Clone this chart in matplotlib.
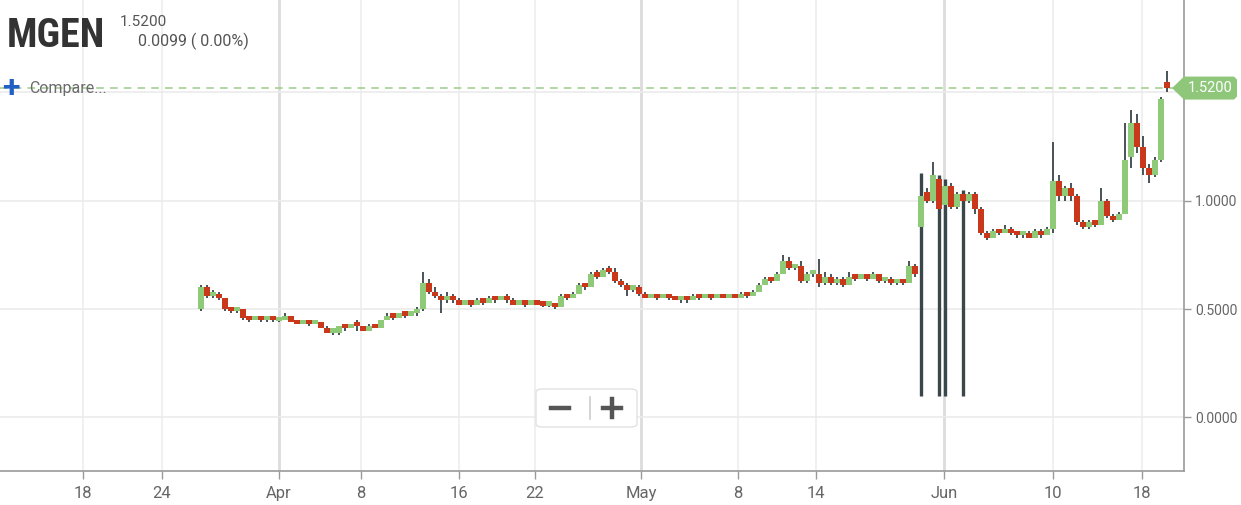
import matplotlib
matplotlib.use("Agg")
import matplotlib.pyplot as plt
import numpy as np
from matplotlib.patches import FancyBboxPatch, Polygon
from matplotlib.transforms import IdentityTransform

plt.rcParams["font.family"] = ["Roboto", "DejaVu Sans"]

# candles, one per slot (oldest first)
opens = [
    .50, .60, .56, .57, .55, .50, .49, .50, .46, .45,
    .46, .45, .46, .445, .45, .47, .44, .43, .44, .43,
    .44, .41, .39, .39, .42, .41, .43, .42, .40, .42,
    .41, .45, .47, .46, .48, .47, .48, .50, .62, .58,
    .56, .54, .56, .54, .52, .53, .52, .54, .53, .55,
    .54, .55, .54, .52, .53, .52, .53, .52, .515, .515,
    .51, .56, .55, .57, .61, .60, .66, .65, .68, .67,
    .63, .61, .59, .60, .57, .55, .56, .55, .56, .55,
    .54, .55, .54, .56, .55, .56, .55, .56, .55, .56,
    .55, .57, .56, .58, .61, .64, .63, .66, .72, .69,
    .70, .63, .66, .66, .62, .65, .62, .64, .61, .65,
    .64, .65, .64, .66, .63, .64, .62, .63, .62, .70,
    .88, 1.04, 1.00, 1.10, .98, 1.07, .97, 1.03, 1.00, 1.03,
    .96, .85, .83, .86, .85, .87, .85, .84, .85, .83,
    .86, .84, .87, 1.09, 1.02, 1.06, 1.02, .90, .88, .90,
    .89, 1.00, .93, .91, .94, 1.20, 1.36, 1.25, 1.15, 1.12,
    1.19, 1.55,
]
highs = [
    .61, .61, .59, .58, .55, .51, .51, .50, .47, .47,
    .47, .47, .46, .46, .48, .47, .45, .45, .44, .45,
    .44, .42, .40, .42, .43, .43, .45, .42, .43, .43,
    .45, .48, .48, .48, .49, .49, .51, .67, .64, .60,
    .57, .58, .57, .55, .54, .54, .55, .55, .56, .56,
    .56, .57, .55, .54, .54, .54, .54, .53, .52, .52,
    .57, .57, .58, .62, .62, .67, .68, .69, .70, .69,
    .64, .62, .61, .61, .58, .57, .57, .57, .57, .56,
    .56, .56, .57, .57, .57, .57, .57, .57, .57, .57,
    .58, .58, .59, .62, .65, .65, .67, .75, .74, .71,
    .72, .67, .67, .73, .67, .66, .65, .65, .67, .66,
    .66, .66, .67, .66, .65, .65, .64, .64, .72, .71,
    1.13, 1.06, 1.18, 1.12, 1.10, 1.08, 1.04, 1.05, 1.04, 1.04,
    .97, .86, .87, .87, .89, .88, .86, .86, .86, .87,
    .87, .88, 1.27, 1.12, 1.07, 1.08, 1.03, .91, .91, .91,
    1.06, 1.01, .94, .95, 1.36, 1.42, 1.40, 1.30, 1.17, 1.20,
    1.48, 1.60,
]
lows = [
    .49, .55, .55, .54, .49, .48, .48, .45, .44, .45,
    .44, .44, .44, .44, .45, .44, .43, .43, .42, .43,
    .41, .39, .38, .38, .40, .41, .40, .40, .40, .41,
    .41, .45, .45, .46, .46, .47, .47, .49, .57, .55,
    .48, .53, .53, .52, .52, .51, .52, .52, .53, .53,
    .54, .53, .52, .52, .51, .52, .52, .51, .51, .50,
    .51, .54, .55, .57, .59, .60, .64, .65, .66, .62,
    .60, .56, .58, .56, .55, .55, .54, .55, .54, .54,
    .53, .53, .54, .54, .55, .54, .55, .55, .55, .55,
    .55, .55, .56, .58, .61, .62, .63, .66, .68, .68,
    .62, .62, .65, .60, .61, .61, .61, .60, .61, .63,
    .64, .63, .64, .62, .62, .61, .61, .61, .62, .65,
    .10, .99, .99, .10, .10, .96, .96, .10, .99, .94,
    .84, .82, .83, .84, .85, .84, .83, .83, .83, .83,
    .83, .84, .85, 1.00, 1.00, 1.00, .89, .87, .87, .88,
    .89, .92, .90, .91, .94, 1.15, 1.22, 1.12, 1.08, 1.11,
    1.18, 1.50,
]
closes = [
    .60, .56, .57, .55, .50, .49, .50, .46, .45, .46,
    .45, .46, .45, .455, .47, .44, .43, .44, .43, .44,
    .41, .39, .39, .42, .41, .43, .42, .40, .42, .41,
    .45, .47, .46, .48, .47, .48, .50, .62, .58, .56,
    .54, .56, .54, .52, .53, .52, .54, .53, .55, .54,
    .55, .54, .52, .53, .52, .53, .52, .515, .515, .51,
    .56, .55, .57, .61, .60, .66, .65, .68, .67, .63,
    .61, .59, .60, .57, .55, .56, .55, .56, .55, .54,
    .55, .54, .56, .55, .56, .55, .56, .55, .56, .55,
    .57, .56, .58, .61, .64, .63, .66, .72, .69, .70,
    .63, .66, .66, .62, .65, .62, .64, .61, .65, .64,
    .65, .64, .66, .63, .64, .62, .63, .62, .70, .66,
    1.02, 1.00, 1.12, .96, 1.07, .97, 1.03, 1.00, 1.03, .96,
    .85, .83, .86, .85, .87, .85, .84, .85, .83, .86,
    .84, .87, 1.09, 1.02, 1.06, 1.02, .90, .88, .90, .89,
    1.00, .93, .91, .94, 1.19, 1.36, 1.25, 1.15, 1.12, 1.19,
    1.47, 1.52,
]

tick_pos = [-19.67, -6.5, 13, 26.67, 43, 55.67, 73.33, 89.5, 102.5, 123.83, 142, 156.83]
tick_labels = ["18", "24", "Apr", "8", "16", "22", "May", "8", "14", "Jun", "10", "18"]
month_ticks = {"Apr", "May", "Jun"}
y_ticks = [0.0, 0.5, 1.0, 1.5]

symbol = "MGEN"
change_text = "0.0099 ( 0.00%)"

UP = "#8fca78"
DOWN = "#c9381b"
WICK = "#39464a"

W, H = 1241, 505
fig = plt.figure(figsize=(W / 100, H / 100), dpi=100)
ax = fig.add_axes([0, 34.5 / H, 1184 / W, 470.5 / H])
ax.set_xlim(-33.5, 163.83)
ax.set_ylim(-0.2456, 1.9266)

o = np.array(opens)
h = np.array(highs)
l = np.array(lows)
c = np.array(closes)
x = np.arange(len(c))

# grid
for pos, lab in zip(tick_pos, tick_labels):
    if lab in month_ticks:
        ax.axvline(pos, color="#dcdcdc", lw=2.0, zorder=0)
    else:
        ax.axvline(pos, color="#eeeeee", lw=1.2, zorder=0)
for yv in y_ticks:
    ax.axhline(yv, color="#ebebeb", lw=1.2, zorder=0)

# wicks and bodies
rng_ = h - l
lw = np.where(rng_ > 0.5, 2.4, 1.3)
ax.vlines(x, l, h, colors=WICK, linewidths=lw, zorder=2)
up = c >= o
body_bottom = np.minimum(o, c)
body_h = np.maximum(np.abs(c - o), 0.02)
ax.bar(x, body_h, bottom=body_bottom, width=0.85,
       color=np.where(up, UP, DOWN), linewidth=0, zorder=3)

# last price line
last = c[-1]
ax.axhline(last, color="#9ccc8a", lw=1.1, dashes=(5, 4), zorder=1)

# axes styling
for side in ("top", "left"):
    ax.spines[side].set_visible(False)
for side in ("bottom", "right"):
    ax.spines[side].set_color("#9a9a9a")
    ax.spines[side].set_linewidth(1.2)
ax.set_xticks(tick_pos)
ax.set_xticklabels(tick_labels)
ax.tick_params(axis="x", colors="#9a9a9a", labelcolor="#666666", length=6,
               width=1.0, labelsize=12, pad=5)
ax.yaxis.tick_right()
ax.set_yticks(y_ticks)
# 1.5 label sits under the price tag
ax.set_yticklabels([f"{v:.4f}" if v < 1.4 else "" for v in y_ticks])
ax.tick_params(axis="y", colors="#9a9a9a", labelcolor="#666666", length=5,
               width=1.0, labelsize=10, pad=3)
ax.set_facecolor("white")

# header
def fx(px):
    return px / W


def fy(py):
    return 1 - py / H


fig.text(fx(7), fy(47), symbol, fontsize=29, fontweight="bold", color="#333333",
         family=["Roboto Condensed", "Roboto", "DejaVu Sans"], va="baseline")
fig.text(fx(120), fy(26), f"{last:.4f}", fontsize=11, color="#555555", va="baseline")
fig.text(fx(138), fy(46), change_text, fontsize=11.5, color="#555555", va="baseline")
fig.text(fx(2), fy(88), "+", fontsize=23, fontweight="bold", color="#2160c4",
         va="center", ha="left")
fig.text(fx(29), fy(89), "Compare...", fontsize=11.5, color="#6b6b6b", va="center")

# price tag
fig.canvas.draw()
ty = ax.transData.transform((0, last))[1]
tag = Polygon([(1172, ty), (1184, ty + 11.5), (1234, ty + 11.5), (1237, ty + 8.5),
               (1237, ty - 8.5), (1234, ty - 11.5), (1184, ty - 11.5)],
              closed=True, facecolor="#8ec77a", edgecolor="none",
              transform=IdentityTransform(), zorder=10)
fig.add_artist(tag)
fig.text(1210 / W, ty / H, f"{last:.4f}", color="white", fontsize=10.5,
         ha="center", va="center", zorder=11)

# zoom control
box = FancyBboxPatch((536 / W, fy(427)), 101 / W, 38 / H,
                     boxstyle="round,pad=0,rounding_size=0.006",
                     transform=fig.transFigure, facecolor="white",
                     edgecolor="#e2e2e2", lw=1.0, zorder=10)
fig.add_artist(box)
fig.add_artist(plt.Line2D([fx(590), fx(590)], [fy(397), fy(419)], color="#cccccc",
                          lw=1.2, transform=fig.transFigure, zorder=11))
fig.add_artist(plt.Line2D([fx(551), fx(569)], [fy(408), fy(408)], color="#555555",
                          lw=3.2, transform=fig.transFigure, zorder=11))
fig.add_artist(plt.Line2D([fx(603), fx(621)], [fy(408), fy(408)], color="#555555",
                          lw=3.2, transform=fig.transFigure, zorder=11))
fig.add_artist(plt.Line2D([fx(612), fx(612)], [fy(399), fy(417)], color="#555555",
                          lw=3.2, transform=fig.transFigure, zorder=11))

fig.savefig("out.png", dpi=100)
